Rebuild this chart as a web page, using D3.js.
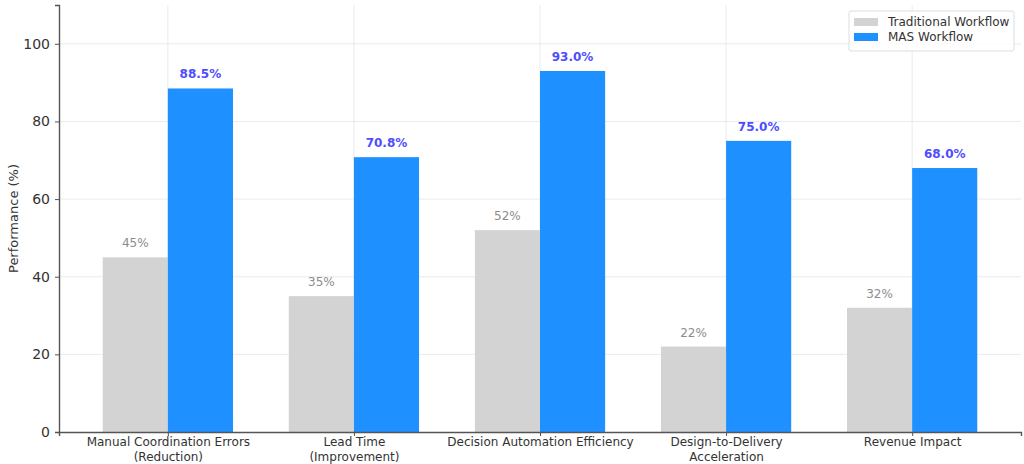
<!DOCTYPE html>
<html>
<head>
<meta charset="utf-8">
<script src="https://cdn.jsdelivr.net/npm/d3@7"></script>
<style>
  body { margin: 0; background: #fff; }
  svg, svg text { font-family: "DejaVu Sans", sans-serif; }
</style>
</head>
<body>
<div id="main"></div>
<script>
// chart data
const categories = [
  ['Manual Coordination Errors', '(Reduction)'],
  ['Lead Time', '(Improvement)'],
  ['Decision Automation Efficiency'],
  ['Design-to-Delivery', 'Acceleration'],
  ['Revenue Impact']
];
const traditional = [45, 35, 52, 22, 32];
const mas = [88.5, 70.8, 93.0, 75.0, 68.0];
const seriesNames = ['Traditional Workflow', 'MAS Workflow'];
const yTicks = [0, 20, 40, 60, 80, 100];

const width = 1024;
const height = 464;
const margin = { top: 5, right: 3, bottom: 32, left: 59 };
const barWidth = 0.35;
const grayColor = '#d3d3d3';
const blueColor = '#1e90ff';

const svg = d3.select('#main')
  .append('svg')
  .attr('width', width)
  .attr('height', height);

const xScale = d3.scaleLinear()
  .domain([-0.585, categories.length - 1 + 0.585])
  .range([margin.left, width - margin.right]);

const yScale = d3.scaleLinear()
  .domain([0, 110])
  .range([height - margin.bottom, margin.top]);

// grid
const grid = svg.append('g');
grid.selectAll('line.h')
  .data(yTicks.slice(1))
  .enter()
  .append('line')
  .attr('x1', margin.left)
  .attr('x2', width - margin.right)
  .attr('y1', (d) => yScale(d))
  .attr('y2', (d) => yScale(d))
  .attr('stroke', '#e6e6e6')
  .attr('stroke-width', 0.8);
grid.selectAll('line.v')
  .data(categories.map((c, i) => i))
  .enter()
  .append('line')
  .attr('x1', (d) => xScale(d))
  .attr('x2', (d) => xScale(d))
  .attr('y1', margin.top)
  .attr('y2', height - margin.bottom)
  .attr('stroke', '#e6e6e6')
  .attr('stroke-width', 0.8);

const pxWidth = xScale(barWidth) - xScale(0);

// bars
svg.append('g').selectAll('rect')
  .data(traditional)
  .enter()
  .append('rect')
  .attr('x', (d, i) => xScale(i - barWidth))
  .attr('y', (d) => yScale(d))
  .attr('width', pxWidth)
  .attr('height', (d) => yScale(0) - yScale(d))
  .attr('fill', grayColor);

svg.append('g').selectAll('rect')
  .data(mas)
  .enter()
  .append('rect')
  .attr('x', (d, i) => xScale(i))
  .attr('y', (d) => yScale(d))
  .attr('width', pxWidth)
  .attr('height', (d) => yScale(0) - yScale(d))
  .attr('fill', blueColor);

// value labels
svg.append('g').selectAll('text')
  .data(traditional)
  .enter()
  .append('text')
  .attr('x', (d, i) => xScale(i - barWidth / 2))
  .attr('y', (d) => yScale(d) - 10)
  .attr('text-anchor', 'middle')
  .attr('font-size', 12)
  .attr('fill', '#8c8c8c')
  .text((d) => d + '%');

svg.append('g').selectAll('text')
  .data(mas)
  .enter()
  .append('text')
  .attr('x', (d, i) => xScale(i + barWidth / 2))
  .attr('y', (d) => yScale(d) - 10)
  .attr('text-anchor', 'middle')
  .attr('font-size', 12)
  .attr('font-weight', 'bold')
  .attr('fill', '#4d4dff')
  .text((d) => d.toFixed(1) + '%');

// axes
const yAxis = svg.append('g')
  .attr('transform', `translate(${margin.left},0)`)
  .call(d3.axisLeft(yScale).tickValues(yTicks).tickSize(4).tickPadding(5));
yAxis.attr('font-family', null);
yAxis.selectAll('text').attr('font-size', 14).attr('fill', '#333');

const xAxis = svg.append('g')
  .attr('transform', `translate(0,${height - margin.bottom})`)
  .call(d3.axisBottom(xScale)
    .tickValues(categories.map((c, i) => i))
    .tickSize(4)
    .tickFormat(''));
xAxis.attr('font-family', null);
xAxis.selectAll('.tick text').remove();
xAxis.selectAll('.tick').each(function (d) {
  const t = d3.select(this).append('text')
    .attr('fill', '#333')
    .attr('font-size', 12)
    .attr('text-anchor', 'middle')
    .attr('y', 14);
  categories[d].forEach((line, k) => {
    t.append('tspan').attr('x', 0).attr('dy', k === 0 ? 0 : 15).text(line);
  });
});

[yAxis, xAxis].forEach((a) => {
  a.select('.domain').attr('stroke', '#555').attr('stroke-width', 1.4);
  a.selectAll('.tick line').attr('stroke', '#555');
});

svg.append('text')
  .attr('transform', `translate(18,${yScale(55)}) rotate(-90)`)
  .attr('text-anchor', 'middle')
  .attr('font-size', 13)
  .attr('fill', '#333')
  .text('Performance (%)');

// legend
const legend = svg.append('g').attr('transform', 'translate(849,11)');
legend.append('rect')
  .attr('width', 165)
  .attr('height', 40)
  .attr('rx', 2)
  .attr('fill', 'rgba(255,255,255,0.8)')
  .attr('stroke', '#ddd');
[grayColor, blueColor].forEach((c, i) => {
  legend.append('rect')
    .attr('x', 5)
    .attr('y', 7 + i * 15)
    .attr('width', 24)
    .attr('height', 8)
    .attr('fill', c);
  legend.append('text')
    .attr('x', 39)
    .attr('y', 15 + i * 15)
    .attr('font-size', 12)
    .attr('fill', '#333')
    .text(seriesNames[i]);
});
</script>
</body>
</html>
